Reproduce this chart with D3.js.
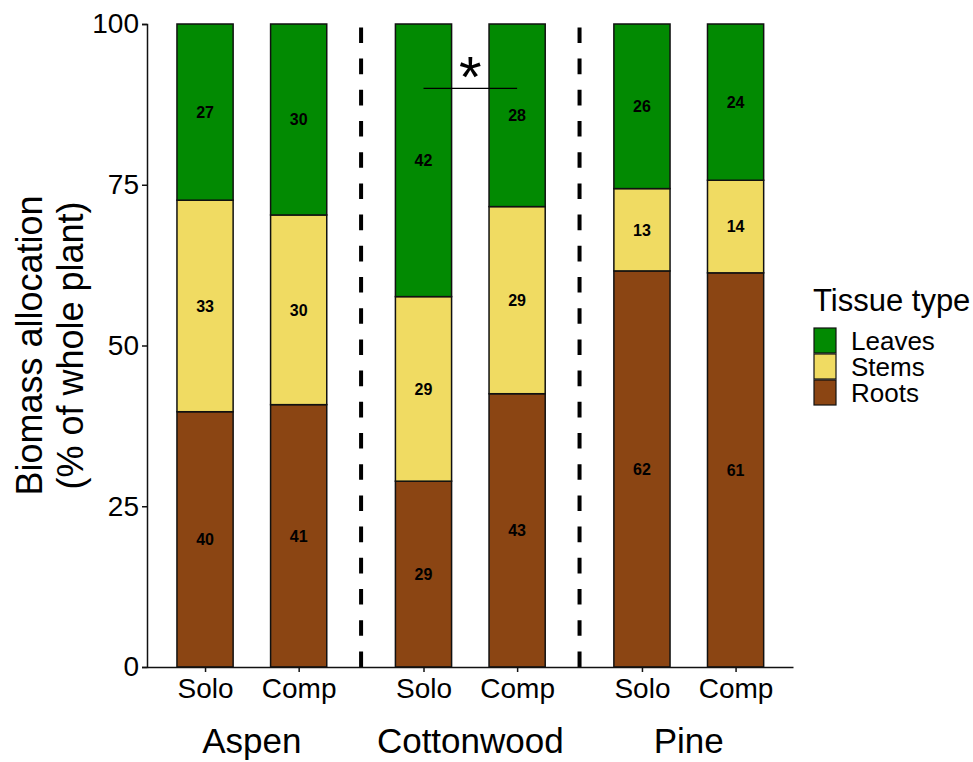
<!DOCTYPE html>
<html>
<head>
<meta charset="utf-8">
<script src="https://cdn.jsdelivr.net/npm/d3@7"></script>
<style>
  body { margin: 0; background: #fff; }
  svg { font-family: "Liberation Sans", Arial, sans-serif; }
</style>
</head>
<body>
<svg width="973" height="762"></svg>
<script>
const species = ["Aspen", "Cottonwood", "Pine"];
const treatments = ["Solo", "Comp"];
const tissues = ["Leaves", "Stems", "Roots"];
const tissueColors = ["#028a02", "#f0db62", "#8b4513"];
// one value per bar: Aspen Solo, Aspen Comp, Cottonwood Solo, Cottonwood Comp, Pine Solo, Pine Comp
const roots = [39.7, 40.8, 28.9, 42.5, 61.6, 61.3];
const stems = [32.9, 29.5, 28.7, 29.1, 12.8, 14.4];
const leaves = [27.4, 29.7, 42.4, 28.4, 25.6, 24.3];
const yTicks = [0, 25, 50, 75, 100];
const sigBracket = { species: "Cottonwood", value: 90, label: "*" };

const svg = d3.select("svg");

// build rows
const rows = [];
species.forEach((s, gi) => {
  treatments.forEach((t, ti) => {
    const k = gi * treatments.length + ti;
    rows.push({
      species: s, treatment: t,
      pos: gi * (treatments.length + 1 / 3) + ti + 1,
      Roots: roots[k], Stems: stems[k], Leaves: leaves[k]
    });
  });
});

const x = d3.scaleLinear().domain([0.38, 7.28]).range([147, 793]);
const y = d3.scaleLinear().domain([0, 100]).range([667, 24]);
const color = d3.scaleOrdinal().domain(tissues).range(tissueColors);
const barW = (x(1.6) - x(1));

const stack = d3.stack().keys(["Roots", "Stems", "Leaves"]);
const series = stack(rows);

// bars
const layers = svg.append("g")
  .selectAll("g")
  .data(series)
  .enter()
  .append("g")
  .attr("fill", d => color(d.key));

layers.selectAll("rect")
  .data(d => d)
  .enter()
  .append("rect")
  .attr("x", d => x(d.data.pos) - barW / 2)
  .attr("width", barW)
  .attr("y", d => y(d[1]))
  .attr("height", d => y(d[0]) - y(d[1]))
  .attr("stroke", "#111")
  .attr("stroke-width", 1.5);

// segment labels
layers.selectAll("text")
  .data(d => d)
  .enter()
  .append("text")
  .attr("x", d => x(d.data.pos))
  .attr("y", d => y((d[0] + d[1]) / 2))
  .attr("dy", "0.36em")
  .attr("text-anchor", "middle")
  .attr("font-size", 16)
  .attr("font-weight", "bold")
  .attr("fill", "#000")
  .text(d => Math.round(d[1] - d[0]));

// dashed separators between species (drawn from bottom up)
const seps = d3.range(1, species.length).map(i => i * (treatments.length + 1 / 3) + 1 - 2 / 3);
svg.append("g")
  .selectAll("line")
  .data(seps)
  .enter()
  .append("line")
  .attr("x1", d => x(d)).attr("x2", d => x(d))
  .attr("y1", y(0)).attr("y2", y(100))
  .attr("stroke", "#000")
  .attr("stroke-width", 4)
  .attr("stroke-dasharray", "15.6,15.6");

// significance bracket
const sigRows = rows.filter(r => r.species === sigBracket.species);
const bx0 = x(sigRows[0].pos), bx1 = x(sigRows[sigRows.length - 1].pos);
svg.append("line")
  .attr("x1", bx0).attr("x2", bx1)
  .attr("y1", y(sigBracket.value)).attr("y2", y(sigBracket.value))
  .attr("stroke", "#000").attr("stroke-width", 1.2);
svg.append("text")
  .attr("x", (bx0 + bx1) / 2)
  .attr("y", y(sigBracket.value) + 9)
  .attr("text-anchor", "middle")
  .attr("font-size", 58)
  .text(sigBracket.label);

// y axis
const yAxis = svg.append("g")
  .attr("transform", `translate(${x(0.38)},0)`)
  .call(d3.axisLeft(y).tickValues(yTicks).tickSize(5).tickPadding(3));
yAxis.select(".domain").attr("stroke", "#111").attr("stroke-width", 1.5);
yAxis.selectAll(".tick line").attr("stroke", "#111").attr("stroke-width", 1.5);
yAxis.selectAll(".tick text").attr("font-size", 28).attr("fill", "#000")
  .attr("font-family", "Liberation Sans, Arial, sans-serif");

// x axis
const xAxis = svg.append("g")
  .attr("transform", `translate(0,${y(0)})`)
  .call(d3.axisBottom(x).tickValues(rows.map(r => r.pos))
    .tickFormat((d, i) => rows[i].treatment).tickSize(5).tickSizeOuter(0).tickPadding(6));
xAxis.select(".domain").attr("stroke", "#111").attr("stroke-width", 1.5);
xAxis.selectAll(".tick line").attr("stroke", "#111").attr("stroke-width", 1.5);
xAxis.selectAll(".tick text").attr("font-size", 28).attr("fill", "#000")
  .attr("font-family", "Liberation Sans, Arial, sans-serif");

// species labels
svg.append("g")
  .selectAll("text")
  .data(species)
  .enter()
  .append("text")
  .attr("x", d => {
    const r = rows.filter(r => r.species === d);
    return (x(r[0].pos) + x(r[r.length - 1].pos)) / 2;
  })
  .attr("y", 753)
  .attr("text-anchor", "middle")
  .attr("font-size", 35)
  .text(d => d);

// y title
const yTitle = svg.append("text")
  .attr("transform", `translate(42,${(y(0) + y(100)) / 2}) rotate(-90)`)
  .attr("text-anchor", "middle")
  .attr("font-size", 36);
yTitle.append("tspan").attr("x", 0).attr("y", 0).text("Biomass allocation");
yTitle.append("tspan").attr("x", 0).attr("y", 41).text("(% of whole plant)");

// legend
const legend = svg.append("g").attr("transform", "translate(814,0)");
legend.append("text")
  .attr("x", -1).attr("y", 311)
  .attr("font-size", 31)
  .text("Tissue type");
const keys = legend.selectAll(".key")
  .data(tissues)
  .enter()
  .append("g")
  .attr("transform", (d, i) => `translate(0,${328 + i * 26})`);
keys.append("rect")
  .attr("width", 22).attr("height", 25)
  .attr("fill", d => color(d))
  .attr("stroke", "#111").attr("stroke-width", 1.2);
keys.append("text")
  .attr("x", 37).attr("y", 13).attr("dy", "0.36em")
  .attr("font-size", 26)
  .text(d => d);
</script>
</body>
</html>
